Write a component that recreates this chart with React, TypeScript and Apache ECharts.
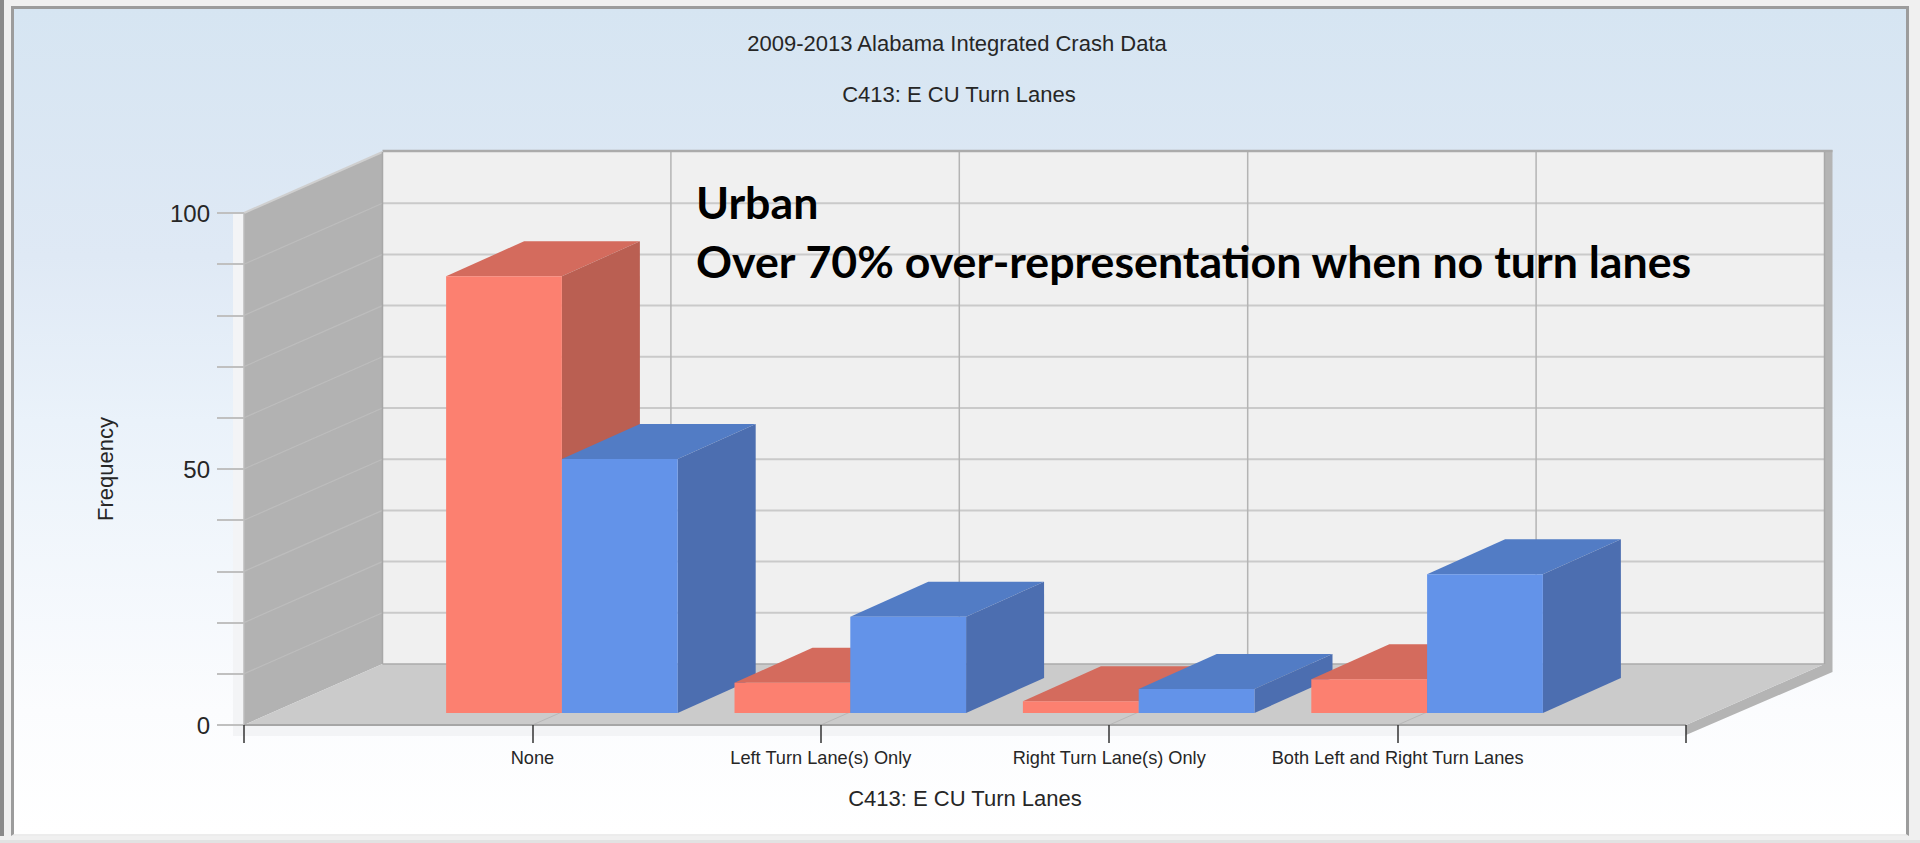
import React, { useEffect, useRef } from "react";
import * as echarts from "echarts";

const titleLines = ["2009-2013 Alabama Integrated Crash Data", "C413: E CU Turn Lanes"];
const annotationLines = ["Urban", "Over 70% over-representation when no turn lanes"];
const categories = ["", "None", "Left Turn Lane(s) Only", "Right Turn Lane(s) Only", "Both Left and Right Turn Lanes", ""];
const redValues = [85.3, 5.9, 2.3, 6.6];
const blueValues = [49.6, 18.8, 4.7, 27.1];
const yGridValues = [10, 20, 30, 40, 50, 60, 70, 80, 90];
const yLabelValues = [0, 50, 100];

const DEPTH = { x: 138.5, y: -61 };
const BASE = { x: 29.5, y: -12 };
const BAR_DEPTH = { x: 78, y: -35 };
const RED = { front: "#FC8070", top: "#D46B5D", side: "#BA5F52" };
const BLUE = { front: "#6393E9", top: "#527CC5", side: "#4C6EB0" };
const TEXT = "#262626";
const FONT = "'Liberation Sans', Arial, sans-serif";

function poly(points: number[][], fill: string, z2 = 0) {
  return { type: "polygon", shape: { points }, style: { fill, stroke: null }, z2, silent: true };
}
function seg(a: number[], b: number[], stroke: string, lineWidth: number, z2 = 1) {
  return {
    type: "line",
    shape: { x1: a[0], y1: a[1], x2: b[0], y2: b[1] },
    style: { stroke, lineWidth, fill: null },
    z2,
    silent: true,
  };
}

function renderScene(_p: any, api: any) {
  const last = categories.length - 1;
  const fl = api.coord([0, 0]);
  const fr = api.coord([last, 0]);
  const tl = api.coord([0, 100]);
  const bl = [fl[0] + DEPTH.x, fl[1] + DEPTH.y];
  const br = [fr[0] + DEPTH.x, fr[1] + DEPTH.y];
  const tb = [tl[0] + DEPTH.x, tl[1] + DEPTH.y];
  const tr = [br[0], tb[1]];
  const children: any[] = [
    poly([[tl[0] - 11, tl[1]], [tl[0], tl[1]], [fl[0], fl[1]], [fr[0], fr[1]], [fr[0], fr[1] + 11], [tl[0] - 11, fl[1] + 11]], "#F3F4F6"),
    poly([[tr[0], tr[1] - 2], [tr[0] + 8, tr[1] - 2], [tr[0] + 8, br[1] + 8], [fr[0], fr[1] + 10], [fr[0], fr[1]], [br[0], br[1]]], "#B4B4B4"),
    poly([tb, tr, br, bl], "#F0F0F0"),
    poly([tl, tb, bl, fl], "#B2B2B2"),
    poly([fl, bl, br, fr], "#CBCBCB"),
  ];
  yGridValues.forEach((v) => {
    const p = api.coord([0, v]);
    children.push(seg([p[0] + DEPTH.x, p[1] + DEPTH.y], [br[0], p[1] + DEPTH.y], "#CACACA", 2));
    children.push(seg(p, [p[0] + DEPTH.x, p[1] + DEPTH.y], "#BDBDBD", 1.2));
  });
  for (let i = 1; i < last; i++) {
    const p = api.coord([i, 0]);
    children.push(seg([p[0] + DEPTH.x, tb[1]], [p[0] + DEPTH.x, bl[1]], "#B4B4B4", 1.5));
    children.push(seg(p, [p[0] + DEPTH.x, bl[1]], "#B8B8B8", 1));
  }
  children.push(seg([tb[0], tb[1] - 1], [tr[0] + 8, tr[1] - 1], "#ABABAB", 2.5, 2));
  children.push(seg(tl, tb, "#CFCFCF", 2, 2));
  children.push(seg(tb, bl, "#A8A8A8", 1.5, 2));
  children.push(seg(tl, fl, "#BDBDBD", 1.5, 2));
  children.push(seg(bl, br, "#ABABAB", 1.5, 2));
  children.push(seg(br, tr, "#A8A8A8", 1.5, 2));
  children.push(seg(fl, fr, "#A6A6A6", 2, 2));
  return { type: "group", children };
}

function makeBarRenderer(colors: typeof RED, seriesOffset: number) {
  return (_p: any, api: any) => {
    const cat = api.value(0);
    const top = api.coord([cat, api.value(1)]);
    const bottom = api.coord([cat, 0]);
    const w = (api.coord([1, 0])[0] - api.coord([0, 0])[0]) * 0.4015;
    const x0 = top[0] + BASE.x + seriesOffset * w;
    const x1 = x0 + w;
    const yTop = top[1] + BASE.y;
    const yBot = bottom[1] + BASE.y;
    const z = cat * 10 + (seriesOffset + 1) * 3;
    return {
      type: "group",
      children: [
        poly([[x0, yTop], [x1, yTop], [x1 + BAR_DEPTH.x, yTop + BAR_DEPTH.y], [x0 + BAR_DEPTH.x, yTop + BAR_DEPTH.y]], colors.top, z),
        poly([[x1, yTop], [x1 + BAR_DEPTH.x, yTop + BAR_DEPTH.y], [x1 + BAR_DEPTH.x, yBot + BAR_DEPTH.y], [x1, yBot]], colors.side, z),
        poly([[x0, yTop], [x1, yTop], [x1, yBot], [x0, yBot]], colors.front, z + 1),
      ],
    };
  };
}

const chromeBox = (style: React.CSSProperties) => <div style={{ position: "absolute", ...style }} />;

export default function App() {
  const ref = useRef<HTMLDivElement>(null);
  useEffect(() => {
    const chart = echarts.init(ref.current!, undefined, { renderer: "svg" });
    chart.setOption({
      animation: false,
      backgroundColor: "transparent",
      title: [
        { text: titleLines[0], left: 957, top: 32, padding: 0, textAlign: "center", textStyle: { fontFamily: FONT, fontSize: 22, fontWeight: "normal", color: TEXT } },
        { text: titleLines[1], left: 959, top: 83, padding: 0, textAlign: "center", textStyle: { fontFamily: FONT, fontSize: 22, fontWeight: "normal", color: TEXT } },
      ],
      grid: { left: 244, right: 234, top: 213, bottom: 118, containLabel: false },
      xAxis: {
        type: "category",
        data: categories,
        boundaryGap: false,
        name: "C413: E CU Turn Lanes",
        nameLocation: "middle",
        nameGap: 62,
        nameTextStyle: { fontFamily: FONT, fontSize: 22, color: TEXT },
        axisLine: { show: false },
        axisTick: { show: true, alignWithLabel: true, interval: 0, length: 18, lineStyle: { color: "#333333", width: 1.5 } },
        axisLabel: { show: true, interval: 0, margin: 24, fontFamily: FONT, fontSize: 18.2, color: TEXT, hideOverlap: false },
        splitLine: { show: false },
      },
      yAxis: {
        type: "value",
        min: 0,
        max: 100,
        interval: 10,
        name: "Frequency",
        nameLocation: "middle",
        nameGap: 128,
        nameTextStyle: { fontFamily: FONT, fontSize: 22, color: TEXT },
        axisLine: { show: false },
        axisTick: { show: true, length: 27, lineStyle: { color: "#C0C0C0", width: 2 } },
        axisLabel: {
          margin: 34,
          fontFamily: FONT,
          fontSize: 24,
          color: TEXT,
          formatter: (v: number) => (yLabelValues.includes(v) ? String(v) : ""),
        },
        splitLine: { show: false },
      },
      series: [
        { type: "custom", name: "Scene", z: -1, silent: true, clip: false, coordinateSystem: "cartesian2d", data: [[0, 0]], renderItem: renderScene },
        {
          type: "custom",
          name: "Red",
          z: 3,
          silent: true,
          clip: false,
          coordinateSystem: "cartesian2d",
          encode: { x: 0, y: 1 },
          data: redValues.map((v, i) => [i + 1, v]),
          renderItem: makeBarRenderer(RED, -1),
        },
        {
          type: "custom",
          name: "Blue",
          z: 3,
          silent: true,
          clip: false,
          coordinateSystem: "cartesian2d",
          encode: { x: 0, y: 1 },
          data: blueValues.map((v, i) => [i + 1, v]),
          renderItem: makeBarRenderer(BLUE, 0),
        },
      ],
      graphic: annotationLines.map((text, i) => ({
        type: "text",
        z: 100,
        silent: true,
        x: 696,
        y: i === 0 ? 202 : 261,
        style: { text, fill: "#000000", font: "bold 44.7px Lato, sans-serif", textAlign: "left", textVerticalAlign: "middle" },
      })),
    });
    return () => chart.dispose();
  }, []);
  return (
    <div style={{ position: "absolute", left: 0, top: 0, width: 1920, height: 843, overflow: "hidden", background: "#F0F0F0" }}>
      {chromeBox({ left: 0, top: 0, width: 4, height: 836, background: "#8A8A8A" })}
      {chromeBox({ left: 11, top: 6, width: 1898, height: 830, boxSizing: "border-box", borderTop: "3px solid #9C9C9C", borderLeft: "3px solid #9C9C9C", borderRight: "3px solid #9C9C9C", borderBottom: "2px solid #ECECEC", background: "linear-gradient(180deg, #D6E5F2 0%, #DFE9F5 30%, #EAF2FA 50%, #FBFCFE 85%, #FFFFFF 100%)" })}
      {chromeBox({ left: 0, top: 840, width: 1920, height: 3, background: "#E2E2E2" })}
      <div ref={ref} style={{ position: "absolute", left: 0, top: 0, width: 1920, height: 843 }} />
    </div>
  );
}
